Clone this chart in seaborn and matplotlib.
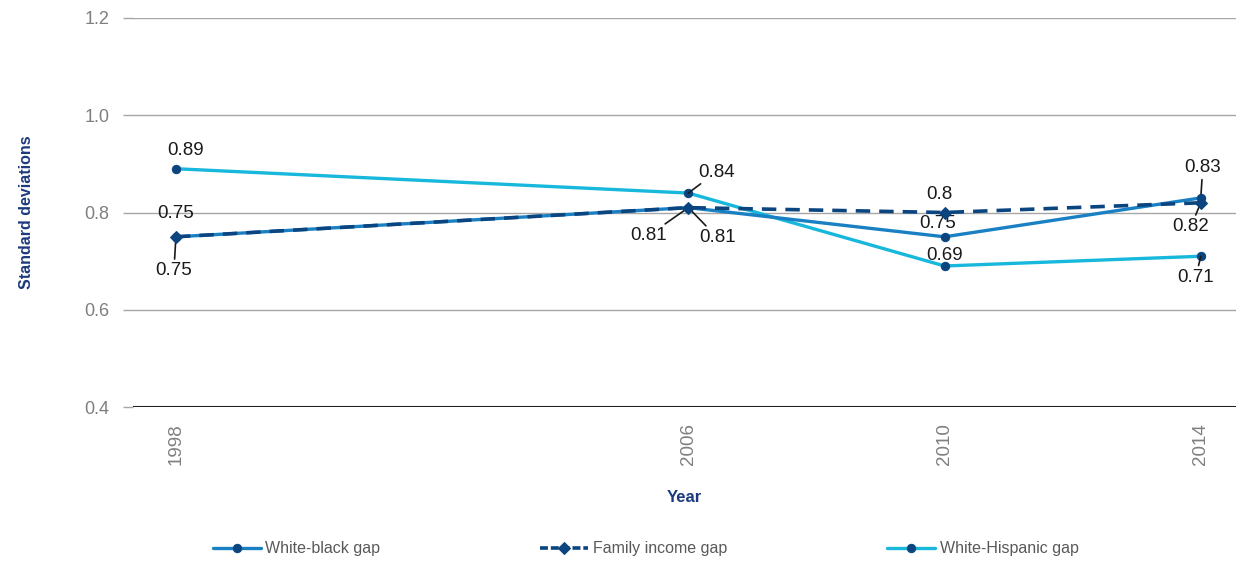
import matplotlib
matplotlib.use("Agg")
import matplotlib.pyplot as plt
import seaborn as sns
import pandas as pd

years = [1998, 2006, 2010, 2014]
white_black = [0.75, 0.81, 0.75, 0.83]
family_income = [0.75, 0.81, 0.80, 0.82]
white_hispanic = [0.89, 0.84, 0.69, 0.71]
y_ticks = [0.4, 0.6, 0.8, 1.0, 1.2]

sns.set_style("white")
plt.rcParams['font.family'] = ['Liberation Sans', 'DejaVu Sans']

C_WB = "#1a80c4"
C_FI = "#0b4580"
C_WH = "#17b8dc"
C_MK = "#0b4580"
NAVY = "#1d3a7c"

fig = plt.figure(figsize=(12.38, 5.62), dpi=100)
ax = fig.add_axes([133/1238, 1-407/562, (1236-133)/1238, (407-18)/562])

df = pd.DataFrame({"Year": years, "wb": white_black, "fi": family_income, "wh": white_hispanic})

sns.lineplot(data=df, x="Year", y="wh", ax=ax, color=C_WH, lw=2.4, marker="o", ms=6,
             markerfacecolor=C_MK, markeredgecolor=C_MK, label="White-Hispanic gap", zorder=3)
sns.lineplot(data=df, x="Year", y="wb", ax=ax, color=C_WB, lw=2.4, marker="o", ms=6,
             markerfacecolor=C_MK, markeredgecolor=C_MK, label="White-black gap", zorder=4)
sns.lineplot(data=df, x="Year", y="fi", ax=ax, color=C_FI, lw=2.6, marker="D", ms=6.5,
             markerfacecolor=C_MK, markeredgecolor=C_MK, label="Family income gap", zorder=5,
             dashes=False, linestyle=(0, (4, 2.5)))

ax.set_xlim(1997.33, 2014.55)
ax.set_ylim(0.4, 1.2)
ax.set_yticks(y_ticks)
ax.set_yticklabels([f"{v:.1f}" for v in y_ticks])
ax.set_xticks(years)
ax.set_xticklabels([str(y) for y in years], rotation=90)
for sp in ax.spines.values():
    sp.set_visible(False)
ax.grid(axis="y", color="#a6a6a6", lw=1)
ax.axhline(0.4, color="#222222", lw=1.5, zorder=2)
ax.tick_params(axis="y", which="both", left=True, length=7, width=1, color="#a6a6a6",
               labelcolor="#7f7f7f", labelsize=13, pad=10)
ax.tick_params(axis="x", bottom=False, labelcolor="#7f7f7f", labelsize=13.5, pad=8)
ax.set_xlabel("Year", color=NAVY, fontweight="bold", fontsize=12, labelpad=18)
ax.set_ylabel("Standard deviations", color=NAVY, fontweight="bold", fontsize=11.5, labelpad=36)

ax.get_legend().remove()
h, l = ax.get_legend_handles_labels()
order = [l.index("White-black gap"), l.index("Family income gap"), l.index("White-Hispanic gap")]
leg = fig.legend([h[i] for i in order], [l[i] for i in order], loc="center",
                 bbox_to_anchor=(0.5215, 1-549/562),
                 ncol=3, frameon=False, fontsize=11.5, handlelength=3.0, columnspacing=10.0,
                 labelcolor="#595959", handletextpad=0.3)
for ln in leg.get_lines():
    if ln.get_label() == "Family income gap":
        ln.set_linestyle((0, (2.2, 0.8)))

lab = dict(fontsize=13.5, color="#1a1a1a", ha="center", va="center", textcoords="offset pixels")
arr = dict(arrowstyle="-", color="#1a1a1a", lw=1.2, shrinkA=0, shrinkB=0)

def note(x, y, txt, dx, dy, leader=False):
    if leader:
        ax.annotate(txt, xy=(x, y), xytext=(dx, dy), arrowprops=arr, **lab)
    else:
        ax.annotate(txt, xy=(x, y), xytext=(dx, dy), **lab)

note(years[0], white_hispanic[0], f"{white_hispanic[0]:g}", 10, 18)
note(years[0], white_black[0], f"{white_black[0]:g}", 0, 23)
note(years[0], family_income[0], f"{family_income[0]:g}", -2, -34, leader=True)
note(years[1], white_hispanic[1], f"{white_hispanic[1]:g}", 28, 21, leader=True)
note(years[1], family_income[1], f"{family_income[1]:g}", -40, -28, leader=True)
note(years[1], white_black[1], f"{white_black[1]:g}", 29, -30, leader=True)
note(years[2], family_income[2], f"{family_income[2]:g}", -5, 18)
note(years[2], white_black[2], f"{white_black[2]:g}", -7, 13)
note(years[2], white_hispanic[2], f"{white_hispanic[2]:g}", 0, 10)
note(years[3], white_black[3], f"{white_black[3]:g}", 2, 30, leader=True)
note(years[3], family_income[3], f"{family_income[3]:g}", -10, -24, leader=True)
note(years[3], white_hispanic[3], f"{white_hispanic[3]:g}", -5, -21, leader=True)

fig.savefig("out.png", dpi=100)
